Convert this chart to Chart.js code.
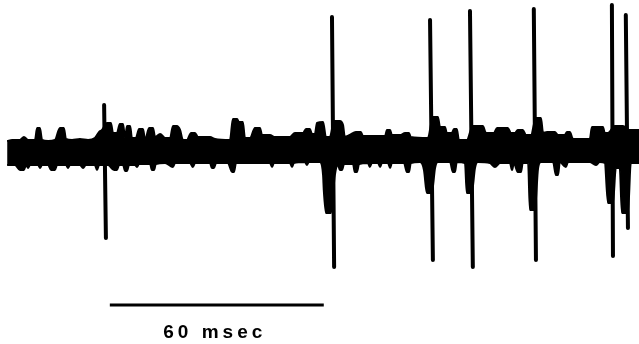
<!DOCTYPE html>
<html>
<head>
<meta charset="utf-8">
<script src="https://cdn.jsdelivr.net/npm/chart.js@4"></script>
<style>
  html, body { margin: 0; padding: 0; background: #fff; }
  #wrap { width: 639px; height: 344px; position: relative; }
</style>
</head>
<body>
<div id="wrap"><canvas id="trace"></canvas></div>
<script>
// time in msec, amplitude in arbitrary units (0 = baseline)
const noiseUpper = [
  [2.0, 11], [3.4, 12], [5.6, 12], [6.7, 15], [7.9, 12], [9.8, 12], [10.4, 24], [11.2, 24],
  [11.8, 12], [13.5, 11], [15.4, 12], [16.8, 24], [17.9, 24], [18.5, 13], [20.2, 12], [22.4, 13],
  [24.7, 12], [26.6, 14], [27.8, 20], [28.6, 22], [30.0, 29], [31.1, 29], [31.7, 19], [32.8, 19],
  [33.6, 28], [34.5, 28], [35.1, 14], [35.6, 26], [36.5, 26], [37.0, 14], [38.1, 14], [39.0, 23],
  [40.1, 23], [40.7, 12], [41.8, 24], [42.9, 24], [43.5, 15], [44.9, 18], [46.3, 14], [47.7, 14],
  [48.5, 26], [49.6, 26], [50.5, 22], [51.3, 12], [52.4, 12], [53.6, 19], [54.7, 19], [55.5, 15],
  [58.9, 15], [60.3, 13], [64.5, 12], [65.3, 33], [66.5, 33], [67.0, 30], [68.1, 30], [68.7, 14],
  [70.1, 14], [71.5, 24], [72.9, 24], [73.5, 17], [75.7, 17], [77.1, 15], [81.3, 15], [82.7, 19],
  [85.0, 19], [85.8, 23], [86.9, 23], [87.5, 18], [88.3, 18], [88.9, 29], [90.6, 30], [91.4, 15],
  [92.5, 15], [93.7, 31], [95.3, 31], [96.2, 27], [96.7, 15], [98.1, 17], [99.8, 20], [101.2, 20],
  [101.8, 16], [108.0, 16], [108.5, 22], [109.4, 22], [109.9, 17], [112.2, 17], [113.6, 19], [114.7, 19],
  [115.2, 15], [120.0, 14], [121.4, 35], [122.8, 35], [123.4, 25], [124.8, 25], [125.3, 19], [126.7, 19],
  [127.3, 23], [128.1, 23], [128.7, 12], [130.9, 12], [132.6, 26], [135.4, 26], [136.3, 19], [138.5, 19],
  [139.4, 24], [142.4, 24], [143.3, 19], [144.4, 19], [145.2, 22], [146.6, 22], [147.5, 17], [148.9, 17],
  [150.3, 34], [151.7, 34], [152.3, 19], [153.4, 20], [155.6, 20], [156.5, 17], [158.4, 17], [159.0, 20],
  [159.8, 20], [160.7, 13], [165.4, 13], [166.0, 25], [169.1, 25], [169.6, 19], [170.5, 19], [172.4, 26],
  [174.7, 26], [176.4, 22], [179.2, 22]
];

const noiseLower = [
  [2.0, -13], [4.2, -13], [5.6, -18], [6.7, -18], [7.3, -13], [7.9, -16], [8.4, -13], [10.7, -13],
  [11.2, -16], [11.8, -13], [13.5, -13], [14.3, -18], [15.4, -18], [16.0, -13], [18.5, -13], [19.1, -16],
  [19.6, -13], [22.4, -13], [23.3, -16], [24.1, -13], [26.6, -13], [27.2, -18], [27.8, -13], [30.3, -13],
  [32.0, -18], [32.8, -18], [33.4, -13], [34.5, -13], [35.1, -19], [35.6, -19], [36.2, -13], [37.9, -13],
  [38.4, -15], [39.0, -12], [42.1, -12], [42.6, -18], [43.2, -18], [43.7, -12], [46.3, -11], [48.5, -15],
  [49.1, -11], [53.3, -11], [54.1, -15], [54.7, -11], [58.9, -11], [59.4, -16], [60.0, -16], [60.6, -11],
  [63.9, -11], [65.1, -20], [65.6, -20], [66.2, -11], [75.7, -11], [76.3, -15], [76.8, -11], [81.3, -11],
  [81.9, -15], [82.4, -11], [85.5, -10], [86.1, -13], [86.6, -10], [89.7, -10], [90.6, -23], [90.8, -38],
  [91.4, -61], [92.8, -61], [93.9, -23], [94.8, -13], [95.3, -18], [95.9, -18], [96.5, -12], [99.0, -12],
  [99.5, -20], [100.1, -20], [100.7, -12], [103.2, -11], [103.7, -15], [104.3, -11], [106.0, -11], [106.6, -15],
  [107.1, -11], [108.8, -11], [109.4, -16], [109.9, -11], [113.3, -11], [114.1, -20], [114.7, -20], [115.2, -11],
  [117.8, -10], [118.9, -18], [119.7, -41], [121.1, -41], [122.0, -16], [122.8, -10], [126.2, -10], [127.0, -20],
  [127.6, -20], [128.1, -10], [130.4, -11], [130.9, -41], [132.3, -41], [133.2, -16], [134.0, -10], [137.4, -11],
  [138.8, -15], [140.2, -11], [143.0, -11], [143.6, -18], [144.1, -11], [145.2, -20], [146.1, -20], [146.6, -11],
  [148.1, -11], [148.6, -58], [150.0, -58], [150.9, -16], [151.7, -10], [155.1, -10], [155.9, -23], [156.5, -23],
  [157.0, -10], [158.7, -15], [159.3, -10], [165.4, -10], [167.1, -13], [168.2, -10], [169.6, -11], [170.5, -51],
  [171.9, -51], [172.7, -16], [173.8, -16], [174.4, -61], [176.1, -61], [176.9, -11], [179.2, -11]
];

// spikes: time of the peak, peak amplitude, time of the trough, trough amplitude
const spikePeakTime = [29.2, 93.1, 120.6, 131.8, 149.7, 171.6, 175.5];
const spikePeak = [47, 135, 132, 141, 143, 147, 137];
const spikeTroughTime = [29.7, 93.7, 121.4, 132.6, 150.3, 171.9, 176.1];
const spikeTrough = [-86, -115, -108, -115, -108, -104, -76];

// calibration bar
const scaleBarStart = 30.8;
const scaleBarLength = 60;
const scaleBarLabel = '60 msec';

const toPoints = arr => arr.map(p => ({ x: p[0], y: p[1] }));

const spikePoints = [];
spikePeakTime.forEach((t, i) => {
    spikePoints.push({ x: t, y: spikePeak[i] });
    spikePoints.push({ x: spikeTroughTime[i], y: spikeTrough[i] });
    spikePoints.push({ x: spikeTroughTime[i], y: null });
});

const barY = -153;

const barLabel = {
    id: 'barLabel',
    afterDatasetsDraw(chart) {
        const { ctx, scales } = chart;
        const cx = scales.x.getPixelForValue(scaleBarStart + scaleBarLength / 2);
        const cy = scales.y.getPixelForValue(-181);
        ctx.save();
        ctx.fillStyle = '#000';
        ctx.font = 'bold 19px "Liberation Sans", Arial, sans-serif';
        ctx.letterSpacing = '4px';
        ctx.textAlign = 'center';
        ctx.textBaseline = 'middle';
        ctx.fillText(scaleBarLabel, cx - 2, cy);
        ctx.restore();
    }
};

new Chart(document.getElementById('trace'), {
    type: 'line',
    data: {
        datasets: [
            {
                label: 'noise upper',
                data: toPoints(noiseUpper),
                borderColor: '#000',
                backgroundColor: '#000',
                borderWidth: 2,
                borderJoinStyle: 'round',
                cubicInterpolationMode: 'monotone',
                pointRadius: 0,
                fill: '+1'
            },
            {
                label: 'noise lower',
                data: toPoints(noiseLower),
                borderColor: '#000',
                borderWidth: 2,
                borderJoinStyle: 'round',
                cubicInterpolationMode: 'monotone',
                pointRadius: 0,
                fill: false
            },
            {
                label: 'spikes',
                data: spikePoints,
                borderColor: '#000',
                borderWidth: 4,
                borderCapStyle: 'round',
                pointRadius: 0,
                spanGaps: false,
                fill: false
            },
            {
                label: 'scale bar',
                data: [{ x: scaleBarStart, y: barY }, { x: scaleBarStart + scaleBarLength, y: barY }],
                borderColor: '#000',
                borderWidth: 3,
                pointRadius: 0,
                fill: false
            }
        ]
    },
    options: {
        responsive: true,
        maintainAspectRatio: false,
        animation: false,
        layout: { padding: 0 },
        plugins: { legend: { display: false }, tooltip: { enabled: false } },
        scales: {
            x: { type: 'linear', min: 0, max: 179.2, display: false },
            y: { min: -192, max: 152, display: false }
        }
    },
    plugins: [barLabel]
});
</script>
</body>
</html>
